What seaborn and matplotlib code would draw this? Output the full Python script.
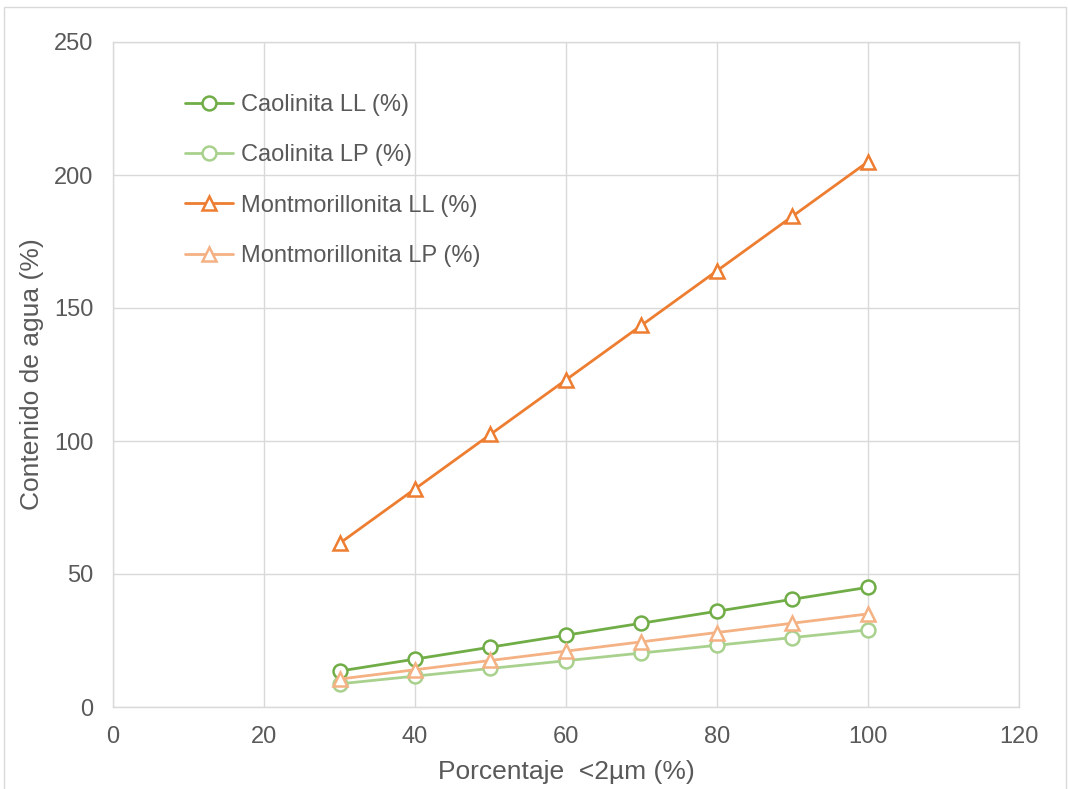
import matplotlib
matplotlib.use("Agg")
import matplotlib.pyplot as plt
import seaborn as sns
import pandas as pd
from matplotlib.patches import Rectangle

x_vals = [30, 40, 50, 60, 70, 80, 90, 100]
caol_ll = [13.5, 18, 22.5, 27, 31.5, 36, 40.5, 45]
caol_lp = [8.7, 11.6, 14.5, 17.4, 20.3, 23.2, 26.1, 29]
mont_ll = [61.5, 82, 102.5, 123, 143.5, 164, 184.5, 205]
mont_lp = [10.5, 14, 17.5, 21, 24.5, 28, 31.5, 35]
series_names = ["Caolinita LL (%)", "Caolinita LP (%)", "Montmorillonita LL (%)", "Montmorillonita LP (%)"]
x_ticks = [0, 20, 40, 60, 80, 100, 120]
y_ticks = [0, 50, 100, 150, 200, 250]

colors = ["#70AD47", "#A9D18E", "#ED7D31", "#F4B183"]
markers = ["o", "o", "^", "^"]

sns.set_theme(style="white")
plt.rcParams['font.family'] = ['Liberation Sans', 'DejaVu Sans']

fig = plt.figure(figsize=(10.68, 7.89), dpi=100)
ax = fig.add_axes([113/1068, 82/789, (1019-113)/1068, (707-42)/789])

fig.patches.append(Rectangle((4/1068, -0.01), (1066-4)/1068, (789-7)/789 + 0.01,
                             transform=fig.transFigure, fill=False,
                             edgecolor="#D9D9D9", linewidth=1.0))

for name, vals, c, m in zip(series_names, [caol_ll, caol_lp, mont_ll, mont_lp], colors, markers):
    df = pd.DataFrame({"x": x_vals, "y": vals})
    sns.lineplot(data=df, x="x", y="y", ax=ax, color=c, marker=m, markersize=10,
                 markerfacecolor="white", markeredgecolor=c, markeredgewidth=1.8,
                 linewidth=2, label=name)

ax.set_xlim(0, 120)
ax.set_ylim(0, 250)
ax.set_xticks(x_ticks)
ax.set_yticks(y_ticks)
ax.grid(True, color="#D9D9D9", linewidth=1)
for s in ax.spines.values():
    s.set_color("#D9D9D9")
    s.set_linewidth(1)
ax.tick_params(axis="both", length=0, labelsize=17, labelcolor="#595959")
ax.tick_params(axis="x", pad=14)
ax.tick_params(axis="y", pad=14)
ax.set_xlabel("Porcentaje  <2µm (%)", fontsize=19, color="#595959", labelpad=8)
ax.set_ylabel("Contenido de agua (%)", fontsize=19, color="#595959", labelpad=7)

leg = ax.legend(loc="upper left", bbox_to_anchor=((185-113)/906, (707-94)/665), frameon=False,
                borderpad=0, borderaxespad=0,
                fontsize=17, labelspacing=1.2, handlelength=2.03, handletextpad=0.34)
for t in leg.get_texts():
    t.set_color("#595959")

fig.savefig("out.png", dpi=100)
